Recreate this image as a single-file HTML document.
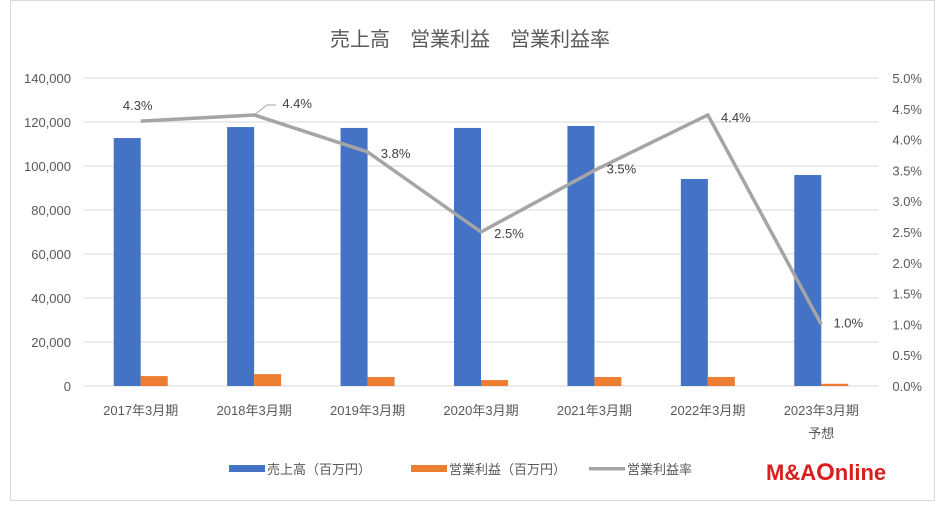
<!DOCTYPE html>
<html><head><meta charset="utf-8"><style>
body{margin:0;background:#fff;font-family:"Liberation Sans","Noto Sans CJK JP",sans-serif}
svg text{font-family:"Liberation Sans","Noto Sans CJK JP",sans-serif}
</style></head><body>
<svg id="c" width="936" height="502" xmlns="http://www.w3.org/2000/svg">
<rect x="10.5" y="0.5" width="924" height="500" fill="#fff" stroke="#d9d9d9"/>
<text x="470" y="46" font-size="20" fill="#595959" text-anchor="middle">売上高　営業利益　営業利益率</text>
<g id="grid"></g><g id="bars"></g><g id="line"></g><g id="labels"></g>
<g>
<rect x="229" y="465" width="36" height="7" fill="#4472c4"/>
<text x="267" y="474" font-size="13" fill="#595959">売上高（百万円）</text>
<rect x="411" y="465" width="36" height="7" fill="#ed7d31"/>
<text x="449" y="474" font-size="13" fill="#595959">営業利益（百万円）</text>
<rect x="589" y="467" width="36" height="3.5" fill="#a5a5a5"/>
<text x="627" y="474" font-size="13" fill="#595959">営業利益率</text>
</g>
<text x="766" y="480" font-size="22" font-weight="bold" fill="#d81e1e">M&amp;A<tspan font-size="24">O</tspan>nline</text>
</svg>
<script>
const categories=["2017年3月期","2018年3月期","2019年3月期","2020年3月期","2021年3月期","2022年3月期","2023年3月期"];
const sales=[112700,117700,117300,117300,118200,94100,95900];
const profit=[4500,5400,4100,2700,4100,4100,1000];
const margin=[4.3,4.4,3.8,2.5,3.5,4.4,1.0];
const leftTicks=[0,20000,40000,60000,80000,100000,120000,140000];
const rightTicks=[0,0.5,1,1.5,2,2.5,3,3.5,4,4.5,5];
const NS="http://www.w3.org/2000/svg";
const x0=84,x1=878,y0=386,y1=78,bw=27;
const step=(x1-x0)/categories.length;
const cx=i=>x0+step*(i+0.5);
const yl=v=>y0-(v/140000)*(y0-y1);
const yr=v=>y0-(v/5)*(y0-y1);
function mk(tag,attrs,parent,txt){const e=document.createElementNS(NS,tag);for(const k in attrs)e.setAttribute(k,attrs[k]);if(txt!=null)e.textContent=txt;document.getElementById(parent).appendChild(e);return e;}
leftTicks.forEach(v=>{
 const g=mk("line",{x1:x0,x2:x1,y1:yl(v),y2:yl(v),stroke:"#d9d9d9","stroke-width":1},"grid");
 
 
 const t=mk("text",{x:71,y:yl(v)+5,"font-size":13,fill:"#595959","text-anchor":"end"},"grid",v.toLocaleString("en-US"));
 
 
});
rightTicks.forEach(v=>{
 const t=mk("text",{x:922,y:yr(v)+5,"font-size":13,fill:"#595959","text-anchor":"end"},"grid",v.toFixed(1)+"%");
 
 
});
categories.forEach((c,i)=>{
 const b=mk("rect",{x:cx(i)-bw,y:yl(sales[i]),width:bw,height:y0-yl(sales[i]),fill:"#4472c4"},"bars");
 
 
 const o=mk("rect",{x:cx(i),y:yl(profit[i]),width:bw,height:y0-yl(profit[i]),fill:"#ed7d31"},"bars");
 
 
 const t=mk("text",{x:cx(i),y:415,"font-size":13,fill:"#595959","text-anchor":"middle"},"labels",c);
 
 
});
const t2=mk("text",{x:cx(6),y:438,"font-size":13,fill:"#595959","text-anchor":"middle"},"labels","予想");


const pts=margin.map((v,i)=>cx(i)+","+yr(v)).join(" ");
const pl=mk("polyline",{points:pts,fill:"none",stroke:"#a5a5a5","stroke-width":3.5,"stroke-linejoin":"round"},"line");


const offs=[[-3,-11],[43,-7],[28,6],[28,6],[27,3],[28,7],[27,3]];
margin.forEach((v,i)=>{
 const t=mk("text",{x:cx(i)+offs[i][0],y:yr(v)+offs[i][1],"font-size":13,fill:"#404040","text-anchor":"middle"},"labels",v.toFixed(1)+"%");
 
 
});
const ld=mk("polyline",{points:(cx(1))+","+yr(margin[1])+" "+(cx(1)+13)+","+(yr(margin[1])-10)+" "+(cx(1)+22)+","+(yr(margin[1])-10),fill:"none",stroke:"#a5a5a5","stroke-width":1},"labels");


</script>
</body></html>
